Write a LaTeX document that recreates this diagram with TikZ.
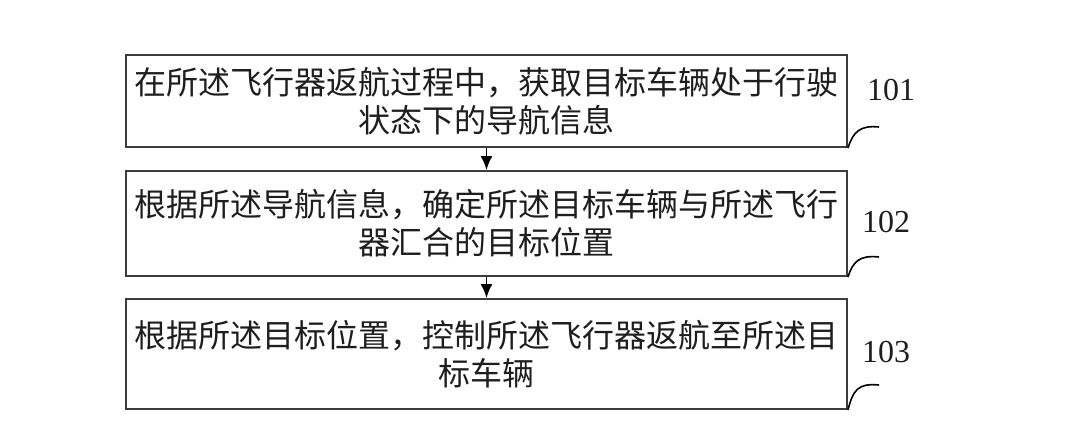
\documentclass[tikz,border=0pt]{standalone}
\usepackage{fontspec}
\setmainfont{Liberation Serif}
\newfontfamily\cjk{Noto Sans CJK SC}
\usetikzlibrary{arrows.meta}
\definecolor{boxline}{RGB}{60,60,60}
\definecolor{txt}{RGB}{30,30,30}
\tikzset{
  stepbox/.style={draw=boxline, line width=2pt, minimum width=721pt, anchor=north west, inner sep=0pt, text=txt},
  steptext/.style={text=txt, align=center, font=\cjk\fontsize{32}{38}\selectfont},
  flow/.style={draw=black, line width=1.6pt, -{Latex[length=14pt,width=12pt]}},
  lead/.style={draw=black, line width=1.6pt},
  numlab/.style={font=\fontsize{32}{32}\selectfont, text=txt}
}
\begin{document}
\begin{tikzpicture}[x=1pt,y=-1pt]
\useasboundingbox (0,0) rectangle (1080,445);
\fill[white] (0,0) rectangle (1080,445);
\node[stepbox, minimum height=92pt] (b1) at (125,54) {};
\node[stepbox, minimum height=105pt] (b2) at (125,170) {};
\node[stepbox, minimum height=110pt] (b3) at (125,298) {};
\node[steptext] (t1) at (b1.center) {在所述飞行器返航过程中，获取目标车辆处于行驶\\状态下的导航信息};
\node[steptext] (t2) at (b2.center) {根据所述导航信息，确定所述目标车辆与所述飞行\\器汇合的目标位置};
\node[steptext] (t3) at (b3.center) {根据所述目标位置，控制所述飞行器返航至所述目\\标车辆};
\draw[flow] (b1.south) -- (b2.north);
\draw[flow] (b2.south) -- (b3.north);
\node[numlab] (l1) at (891,90) {101};
\node[numlab] (l2) at (886,222) {102};
\node[numlab] (l3) at (886,352) {103};
\coordinate (e1) at (879,127);
\coordinate (e2) at (879,257);
\coordinate (e3) at (879,385);
\draw[lead] (b1.south east) .. controls (853,132) and (860,125) .. (e1);
\draw[lead] (b2.south east) .. controls (853,261) and (860,255) .. (e2);
\draw[lead] (b3.south east) .. controls (853,390) and (858,383) .. (e3);
\end{tikzpicture}
\end{document}
